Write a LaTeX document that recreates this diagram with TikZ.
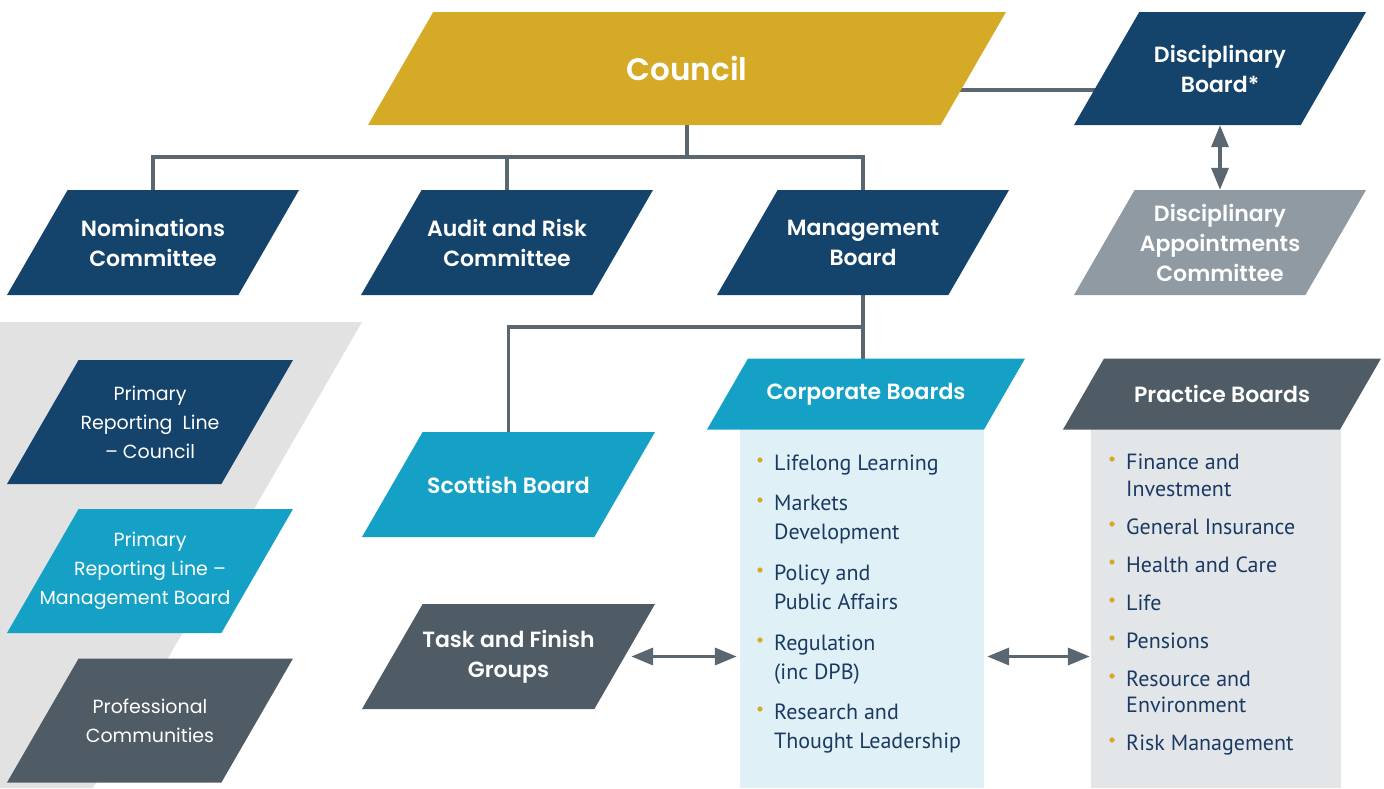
\documentclass[tikz,border=0pt]{standalone}
\usepackage{fontspec}
\setmainfont{Poppins}[BoldFont={Poppins SemiBold}]
\newfontfamily\listfont{PT Sans}
\usetikzlibrary{calc}
\usetikzlibrary{arrows.meta}
\usetikzlibrary{backgrounds}

\definecolor{cgold}{HTML}{D5AA27}
\definecolor{cnavy}{HTML}{14436B}
\definecolor{cblue}{HTML}{15A1C5}
\definecolor{cslate}{HTML}{505C65}
\definecolor{cgrey}{HTML}{8F9AA2}
\definecolor{clink}{HTML}{5B6770}
\definecolor{clegend}{HTML}{E2E2E2}
\definecolor{ccorp}{HTML}{DFF1F6}
\definecolor{cprac}{HTML}{E3E6E9}
\definecolor{ctext}{HTML}{1B3A63}

\tikzset{
  slantbox/.style={rectangle, inner sep=0pt, align=center, text=white,
    path picture={\fill[#1] let \p1=(path picture bounding box.south west),
      \p2=(path picture bounding box.north east), \n1={(\y2-\y1)*0.5774} in
      (\p1) -- (\x2-\n1,\y1) -- (\p2) -- (\x1+\n1,\y2) -- cycle;}},
  title/.style={font=\fontsize{22}{30}\selectfont\bfseries},
  legtext/.style={font=\fontsize{19}{29}\selectfont},
  listbox/.style={rectangle, inner sep=0pt, fill=#1},
  item/.style={anchor=base west, inner sep=0pt, text=ctext, font=\listfont\fontsize{22}{26}\selectfont},
  link/.style={draw=clink, line width=3.5pt},
  dblarrow/.style={draw=clink, line width=3.5pt,
    {Triangle[length=22pt,width=17pt]}-{Triangle[length=22pt,width=17pt]}},
}

\begin{document}
\begin{tikzpicture}[x=1pt,y=-1pt]
\useasboundingbox (0,0) rectangle (1384,788);

% legend background
\fill[clegend] (0,322) -- (362,322) -- (93,788) -- (0,788) -- cycle;

% top rows
\node[slantbox=cgold, minimum width=638pt, minimum height=113pt,
  font=\fontsize{31}{36}\selectfont\bfseries] (council) at (687,68.5) {Council};
\node[slantbox=cnavy, title, minimum width=292pt, minimum height=113pt] (disc) at (1220,68.5) {Disciplinary\\Board*};
\node[slantbox=cgrey, title, minimum width=292pt, minimum height=105pt] (dac) at (1220,242.5) {Disciplinary\\Appointments\\Committee};
\node[slantbox=cnavy, title, minimum width=292pt, minimum height=105pt] (nom) at (153,242.5) {Nominations\\Committee};
\node[slantbox=cnavy, title, minimum width=292pt, minimum height=105pt] (aud) at (507,242.5) {Audit and Risk\\Committee};
\node[slantbox=cnavy, title, minimum width=292pt, minimum height=105pt] (mgmt) at (863,242.5) {Management\\Board};

% lower left
\node[slantbox=cblue, title, minimum width=293pt, minimum height=105pt] (scot) at (508.5,484.5) {Scottish Board};
\node[slantbox=cslate, title, minimum width=293pt, minimum height=105pt] (task) at (508.5,656.5) {Task and Finish\\Groups};

% boards with lists
\node[listbox=ccorp, minimum width=244pt, minimum height=360pt] (corpl) at (862,608) {};
\node[listbox=cprac, minimum width=250pt, minimum height=360pt] (pracl) at (1216,608) {};
\node[slantbox=cblue, title, minimum width=318pt, minimum height=71pt] (corph) at (866,394) {Corporate Boards};
\node[slantbox=cslate, title, minimum width=318pt, minimum height=71pt] (prach) at (1222,394) {Practice Boards};

\foreach \yy/\txt/\bul [count=\i] in {470/Lifelong Learning/1, 510/Markets/1, 539/Development/0,
    580/Policy and/1, 609/Public Affairs/0, 650/Regulation/1, 679/(inc DPB)/0,
    719/Research and/1, 748/Thought Leadership/0}{
  \node[item] (corp-\i) at (774,\yy) {\txt};
  \ifnum\bul=1 \fill[cgold] (760,\yy-10) circle (2.6pt); \fi
}
\foreach \yy/\txt/\bul [count=\i] in {469/Finance and/1, 496/Investment/0, 534/General Insurance/1,
    572/Health and Care/1, 610/Life/1, 648/Pensions/1, 686/Resource and/1,
    712/Environment/0, 750/Risk Management/1}{
  \node[item] (prac-\i) at (1126,\yy) {\txt};
  \ifnum\bul=1 \fill[cgold] (1112,\yy-10) circle (2.6pt); \fi
}

% legend
\node[slantbox=cnavy, legtext, minimum width=286pt, minimum height=124pt] (leg1) at (150,422) {Primary\\Reporting\ \ Line\\– Council};
\node[slantbox=cblue, legtext, minimum width=286pt, minimum height=124pt] (leg2) at (150,571) {Primary\\Reporting Line –\\Management Board\hspace*{30pt}};
\node[slantbox=cslate, legtext, minimum width=286pt, minimum height=124pt] (leg3) at (150,720.5) {Professional\\Communities};

% connectors
\begin{scope}[on background layer]
\coordinate (bus) at (687,157);
\draw[link] (council) -- (council |- bus);
\draw[link] (nom) |- (bus) -| (mgmt);
\draw[link] (aud) -- (aud |- bus);
\draw[link] ([yshift=-21.5pt]council.center) -- ([yshift=-21.5pt]disc.center);
\draw[link] (mgmt) -- (mgmt |- corph);
\draw[link] (mgmt |- 0,327) -| (scot);
\end{scope}

\draw[dblarrow] (disc.south) -- (dac.north);
\draw[dblarrow] ([xshift=-24pt]task.east) -- ([xshift=-3pt]task.east -| corpl.west);
\draw[dblarrow] ([xshift=3pt]task.east -| corpl.east) -- ([xshift=-1pt]task.east -| pracl.west);

\end{tikzpicture}
\end{document}
